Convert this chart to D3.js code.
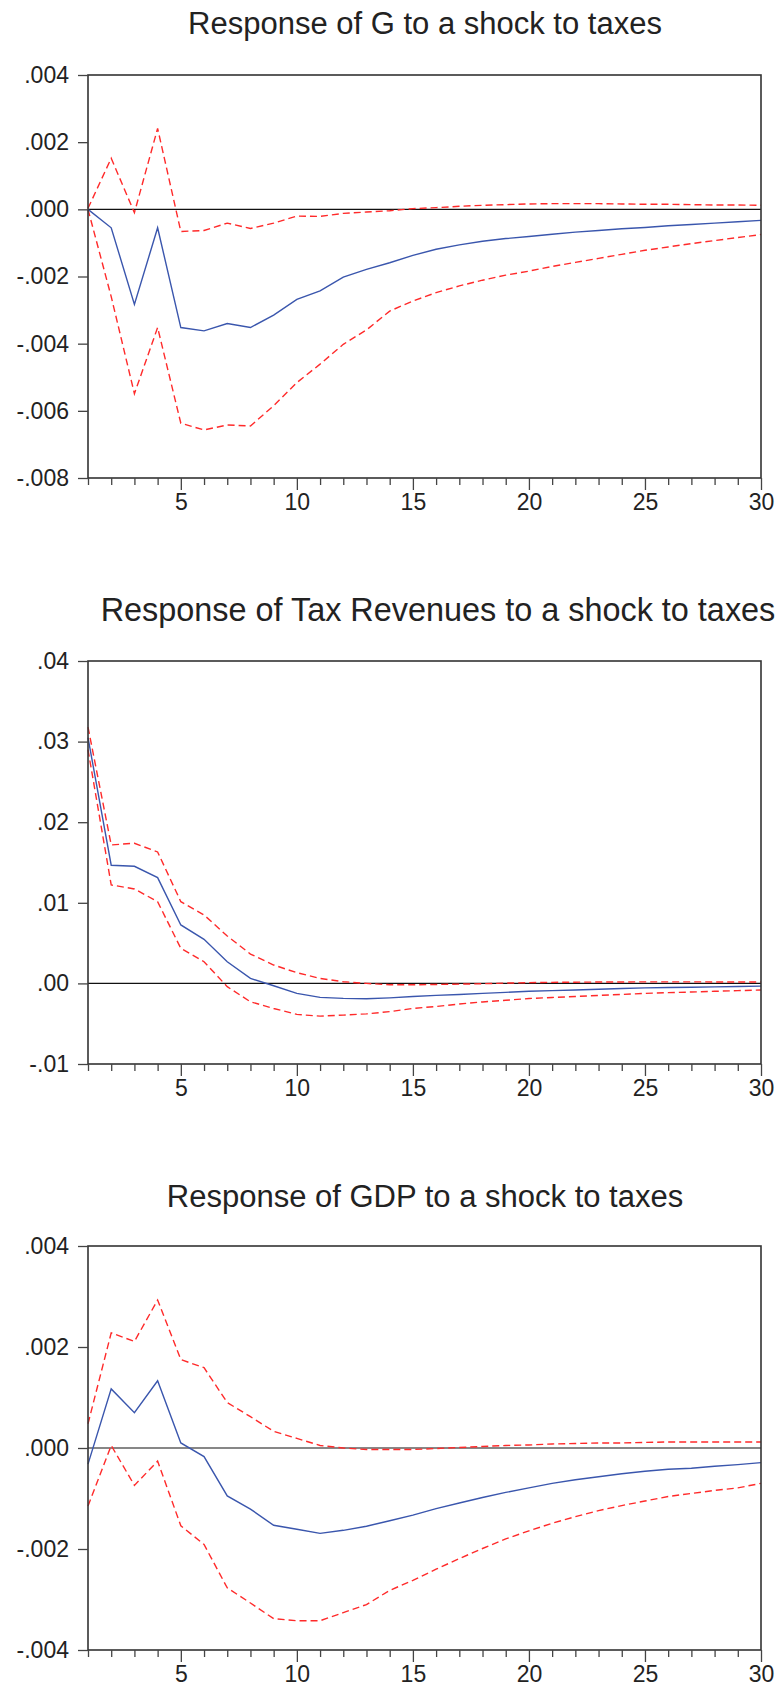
<!DOCTYPE html>
<html>
<head>
<meta charset="utf-8">
<script src="https://cdn.jsdelivr.net/npm/d3@7"></script>
<style>
  html, body { margin: 0; padding: 0; background: #fff; }
  svg { display: block; }
  text { font-family: Arial, "Liberation Sans", sans-serif; fill: #222; }
</style>
</head>
<body>
<svg id="chart" width="779" height="1691"></svg>
<script>
// ---- Data ----
const periods = d3.range(1, 31);
const xTicks = [5, 10, 15, 20, 25, 30];

const titleG = "Response of G to a shock to taxes";
const gTicks = [0.004, 0.002, 0.000, -0.002, -0.004, -0.006, -0.008];
const gTickLabels = [".004", ".002", ".000", "-.002", "-.004", "-.006", "-.008"];
const gResp = [0, -0.00055, -0.00283, -0.00055, -0.00352, -0.00362, -0.0034, -0.00352, -0.00315, -0.00268,
  -0.00243, -0.00202, -0.00179, -0.00159, -0.00137, -0.00119, -0.00106, -0.00095, -0.00087, -0.00081,
  -0.00074, -0.00068, -0.00063, -0.00058, -0.00054, -0.00049, -0.00045, -0.00041, -0.00037, -0.00033];
const gUpper = [0.00003, 0.00152, -0.0001, 0.00241, -0.00066, -0.00063, -0.00041, -0.00057, -0.00041, -0.0002,
  -0.00021, -0.00012, -0.00008, -0.00004, 0.00002, 0.00005, 0.00009, 0.00012, 0.00014, 0.00016,
  0.00017, 0.00017, 0.00017, 0.00016, 0.00015, 0.00015, 0.00014, 0.00013, 0.00013, 0.00012];
const gLower = [0, -0.0026, -0.00549, -0.00352, -0.00637, -0.00657, -0.00642, -0.00645, -0.00585, -0.00516,
  -0.00461, -0.00402, -0.00359, -0.00303, -0.00273, -0.00248, -0.00228, -0.00211, -0.00196, -0.00184,
  -0.0017, -0.00158, -0.00146, -0.00134, -0.00122, -0.00112, -0.00102, -0.00093, -0.00084, -0.00075];

const titleT = "Response of Tax Revenues to a shock to taxes";
const tTicks = [0.04, 0.03, 0.02, 0.01, 0.00, -0.01];
const tTickLabels = [".04", ".03", ".02", ".01", ".00", "-.01"];
const tResp = [0.0305, 0.01466, 0.01453, 0.01313, 0.00725, 0.00547, 0.00269, 0.00062, -0.00029, -0.00124,
  -0.00174, -0.00186, -0.0019, -0.00179, -0.00162, -0.00149, -0.00137, -0.00124, -0.00111, -0.00098,
  -0.0009, -0.00081, -0.00073, -0.00064, -0.00055, -0.00051, -0.00047, -0.00043, -0.00038, -0.00034];
const tUpper = [0.0318, 0.01718, 0.01739, 0.01631, 0.01014, 0.00849, 0.00588, 0.00364, 0.00228, 0.00133,
  0.00062, 0.00021, 0.0, -0.00017, -0.00017, -0.00013, -0.00009, -0.00004, 0.00004, 0.00009,
  0.00013, 0.00015, 0.00017, 0.00018, 0.00019, 0.00019, 0.00019, 0.00018, 0.00018, 0.00017];
const tLower = [0.029, 0.01222, 0.01172, 0.01014, 0.00435, 0.00269, -0.00041, -0.00228, -0.00311, -0.00385,
  -0.00406, -0.00393, -0.00378, -0.0035, -0.00311, -0.00286, -0.00256, -0.0023, -0.00209, -0.00188,
  -0.00175, -0.00162, -0.00149, -0.00137, -0.00124, -0.00115, -0.00107, -0.00098, -0.0009, -0.00081];

const titleY = "Response of GDP to a shock to taxes";
const yTicks = [0.004, 0.002, 0.000, -0.002, -0.004];
const yTickLabels = [".004", ".002", ".000", "-.002", "-.004"];
const yResp = [-0.00032, 0.00117, 0.0007, 0.00133, 0.0001, -0.00017, -0.00095, -0.00121, -0.00153, -0.00161,
  -0.00169, -0.00163, -0.00155, -0.00144, -0.00133, -0.0012, -0.00109, -0.00098, -0.00088, -0.00079,
  -0.0007, -0.00063, -0.00057, -0.00051, -0.00046, -0.00042, -0.0004, -0.00036, -0.00033, -0.00029];
const yUpper = [0.00048, 0.00228, 0.00211, 0.00293, 0.00175, 0.00159, 0.0009, 0.00062, 0.00033, 0.00019,
  0.00005, 0.0, -0.00003, -0.00003, -0.00003, -0.00001, 0.00001, 0.00003, 0.00005, 0.00006,
  0.00008, 0.00009, 0.0001, 0.0001, 0.00011, 0.00012, 0.00012, 0.00012, 0.00012, 0.00012];
const yLower = [-0.00115, 0.00005, -0.00074, -0.00026, -0.00154, -0.00191, -0.00277, -0.00307, -0.00338, -0.00342,
  -0.00342, -0.00326, -0.0031, -0.00282, -0.00262, -0.0024, -0.00219, -0.00199, -0.0018, -0.00164,
  -0.00149, -0.00136, -0.00124, -0.00114, -0.00105, -0.00096, -0.0009, -0.00084, -0.00079, -0.0007];

// ---- Layout ----
const svg = d3.select("#chart");
const left = 88, right = 761;

const panels = [
  { title: titleG, titleX: 425, titleY: 34, titleSize: 31, top: 75, bottom: 478,
    domain: [-0.008, 0.004], ticks: gTicks, labels: gTickLabels, resp: gResp, up: gUpper, lo: gLower },
  { title: titleT, titleX: 438, titleY: 621, titleSize: 32.4, top: 661, bottom: 1064,
    domain: [-0.01, 0.04], ticks: tTicks, labels: tTickLabels, resp: tResp, up: tUpper, lo: tLower },
  { title: titleY, titleX: 425, titleY: 1207, titleSize: 31, top: 1246, bottom: 1650,
    domain: [-0.004, 0.004], ticks: yTicks, labels: yTickLabels, resp: yResp, up: yUpper, lo: yLower }
];

panels.forEach(p => {
  const x = d3.scaleLinear().domain([1, 30]).range([left, right]);
  const y = d3.scaleLinear().domain(p.domain).range([p.bottom, p.top]);
  const g = svg.append("g");

  g.append("text")
    .attr("x", p.titleX).attr("y", p.titleY)
    .attr("text-anchor", "middle")
    .style("font-size", p.titleSize + "px")
    .text(p.title);

  // zero line
  g.append("line")
    .attr("x1", left).attr("x2", right)
    .attr("y1", y(0)).attr("y2", y(0))
    .attr("stroke", "#111").attr("stroke-width", 1.2);

  const line = d3.line().x((d, i) => x(periods[i])).y(d => y(d));

  g.append("path").datum(p.up).attr("d", line)
    .attr("fill", "none").attr("stroke", "#ff2a2a").attr("stroke-width", 1.4)
    .attr("stroke-dasharray", "7,4");
  g.append("path").datum(p.lo).attr("d", line)
    .attr("fill", "none").attr("stroke", "#ff2a2a").attr("stroke-width", 1.4)
    .attr("stroke-dasharray", "7,4");
  g.append("path").datum(p.resp).attr("d", line)
    .attr("fill", "none").attr("stroke", "#3a56ad").attr("stroke-width", 1.4);

  // frame
  g.append("rect")
    .attr("x", left).attr("y", p.top)
    .attr("width", right - left).attr("height", p.bottom - p.top)
    .attr("fill", "none").attr("stroke", "#333").attr("stroke-width", 1.6);

  // y axis
  const yAxis = d3.axisLeft(y).tickValues(p.ticks)
    .tickFormat((d, i) => p.labels[i]).tickSize(10).tickPadding(9);
  const ya = g.append("g").attr("transform", `translate(${left},0)`).call(yAxis);
  ya.select(".domain").remove();
  ya.selectAll(".tick line").attr("stroke", "#444").attr("stroke-width", 1.3);
  ya.selectAll(".tick text").style("font-size", "23px")
    .style("font-family", "Arial, 'Liberation Sans', sans-serif").attr("fill", "#222");

  // x axis: minor ticks every period, major at multiples of 5
  const xMinor = d3.axisBottom(x).tickValues(periods.filter(v => !xTicks.includes(v)))
    .tickSize(7).tickFormat("");
  const xm = g.append("g").attr("transform", `translate(0,${p.bottom})`).call(xMinor);
  xm.select(".domain").remove();
  xm.selectAll(".tick line").attr("stroke", "#444").attr("stroke-width", 1.3);

  const xMajor = d3.axisBottom(x).tickValues(xTicks).tickSize(12).tickPadding(4);
  const xa = g.append("g").attr("transform", `translate(0,${p.bottom})`).call(xMajor);
  xa.select(".domain").remove();
  xa.selectAll(".tick line").attr("stroke", "#444").attr("stroke-width", 1.3);
  xa.selectAll(".tick text").style("font-size", "23px")
    .style("font-family", "Arial, 'Liberation Sans', sans-serif").attr("fill", "#222");
});
</script>
</body>
</html>
